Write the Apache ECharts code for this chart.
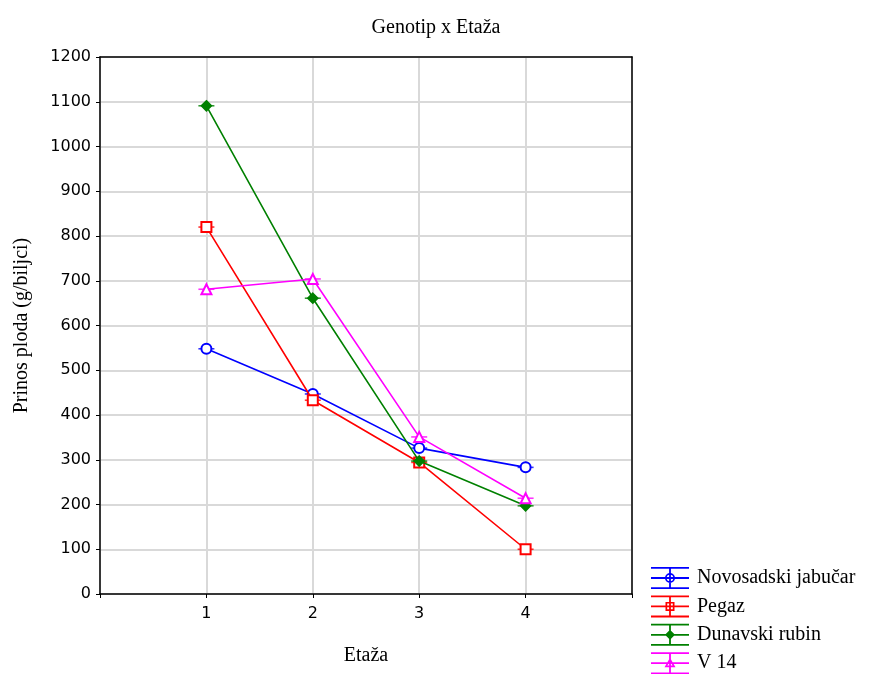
<!DOCTYPE html>
<html><head><meta charset="utf-8">
<script src="https://cdn.jsdelivr.net/npm/echarts@6/dist/echarts.min.js"></script>
<style>html,body{margin:0;padding:0;background:#fff}#c{width:872px;height:674px}</style>
</head><body><div id="c"></div>
<script>
var etaze = [1, 2, 3, 4];
var xTickLabels = ['1', '2', '3', '4'];
var seriesNames = ['Novosadski jabučar', 'Pegaz', 'Dunavski rubin', 'V 14'];
var novosadski = [548, 447, 326, 283];
var pegaz = [820, 433, 294, 100];
var dunavski = [1091, 661, 297, 197];
var v14 = [681, 704, 351, 214];

var colors = ['#0000ff', '#ff0000', '#008000', '#ff00ff'];
var symbols = ['emptyCircle', 'emptyRect', 'diamond', 'emptyTriangle'];
var values = [novosadski, pegaz, dunavski, v14];

var bars = 'M0,0H38V1.8H0Z M0,10.1H38V11.9H0Z M0,20.2H38V22H0Z M18.1,0H19.9V22H18.1Z ';
var icons = [
  bars + 'M24,11A5,5 0 1,1 14,11A5,5 0 1,1 24,11Z M22.3,11A3.3,3.3 0 1,0 15.7,11A3.3,3.3 0 1,0 22.3,11Z',
  bars + 'M14.5,6.5H23.5V15.5H14.5Z M16.2,8.2V13.8H21.8V8.2Z',
  bars + 'M19,6L24,11L19,16L14,11Z',
  bars + 'M19,5.5L24.5,15H13.5Z M19,8.9L16.4,13.4H21.6Z'
];

function pairs(arr) { return etaze.map(function (x, i) { return [x, arr[i]]; }); }

var series = [];
seriesNames.forEach(function (n, i) {
  series.push({
    name: n, type: 'line', data: pairs(values[i]),
    symbol: symbols[i], symbolSize: 10, showSymbol: true,
    lineStyle: { color: colors[i], width: 1.6 },
    itemStyle: { color: colors[i], borderColor: colors[i], borderWidth: 1.6 },
    z: 3 + i, animation: false
  });
  series.push({
    type: 'scatter', data: pairs(values[i]),
    symbol: 'rect', symbolSize: [16, 1.6],
    itemStyle: { color: colors[i] }, z: 2 + i, animation: false, silent: true
  });
});

var serif = 'Liberation Serif';
var sans = 'DejaVu Sans';
var chart = echarts.init(document.getElementById('c'));
chart.setOption({
  animation: false,
  backgroundColor: '#fff',
  title: {
    text: 'Genotip x Etaža', left: 'center', top: 13,
    textStyle: { fontFamily: serif, fontSize: 20, fontWeight: 'normal', color: '#000' }
  },
  grid: { left: 100, right: 240, top: 57, bottom: 80, containLabel: false },
  legend: {
    orient: 'vertical', left: 651, top: 567, height: 110, padding: 0,
    itemWidth: 38, itemHeight: 22, itemGap: 6.4,
    selectedMode: false,
    textStyle: { fontFamily: serif, fontSize: 20, color: '#000', padding: [0, 0, 0, 3] },
    data: seriesNames.map(function (n, i) {
      return { name: n, icon: 'path://' + icons[i], itemStyle: { color: colors[i], borderWidth: 0 } };
    })
  },
  xAxis: [{
    type: 'value', min: 0, max: 5, interval: 1,
    name: 'Etaža', nameLocation: 'middle', nameGap: 52,
    nameTextStyle: { fontFamily: serif, fontSize: 20, color: '#000' },
    axisLine: { show: true, lineStyle: { color: '#000', width: 1.5 } },
    axisTick: { show: true, length: 4, lineStyle: { color: '#000' } },
    axisLabel: {
      fontFamily: sans, fontSize: 16, color: '#000', margin: 12,
      formatter: function (v) { var k = etaze.indexOf(v); return k >= 0 ? xTickLabels[k] : ''; }
    },
    splitLine: { show: true, lineStyle: { color: '#d9d9d9', width: 2 } }
  }, {
    type: 'value', min: 0, max: 5, interval: 1, position: 'top',
    axisLine: { show: true, onZero: false, lineStyle: { color: '#000', width: 1.5 } },
    axisTick: { show: false }, axisLabel: { show: false }, splitLine: { show: false }
  }],
  yAxis: [{
    type: 'value', min: 0, max: 1200, interval: 100,
    name: 'Prinos ploda (g/biljci)', nameLocation: 'middle', nameGap: 68,
    nameTextStyle: { fontFamily: serif, fontSize: 20, color: '#000' },
    axisLine: { show: true, lineStyle: { color: '#000', width: 1.5 } },
    axisTick: { show: true, length: 4, lineStyle: { color: '#000' } },
    axisLabel: { fontFamily: sans, fontSize: 16, color: '#000', margin: 9, formatter: function (v) { return String(v); } },
    splitLine: { show: true, lineStyle: { color: '#d9d9d9', width: 2 } }
  }, {
    type: 'value', min: 0, max: 1200, interval: 100, position: 'right',
    axisLine: { show: true, onZero: false, lineStyle: { color: '#000', width: 1.5 } },
    axisTick: { show: false }, axisLabel: { show: false }, splitLine: { show: false }
  }],
  series: series
});
</script></body></html>
